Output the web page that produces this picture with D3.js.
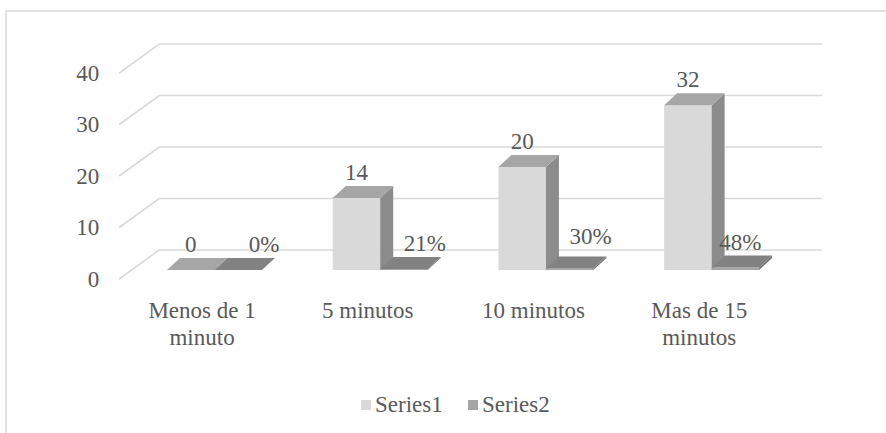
<!DOCTYPE html>
<html>
<head>
<meta charset="utf-8">
<script src="https://cdn.jsdelivr.net/npm/d3@7/dist/d3.min.js"></script>
</head>
<body style="margin:0">
<svg id="chart" width="886" height="433"></svg>
<script>
// ---- data ----
const categories = ["Menos de 1 minuto", "5 minutos", "10 minutos", "Mas de 15 minutos"];
const series1 = [0, 14, 20, 32];
const series2 = [0, 0.21, 0.30, 0.48];
const seriesNames = ["Series1", "Series2"];
const yTicks = [0, 10, 20, 30, 40];

// ---- layout ----
const W = 886, H = 433;
const fontSize = 23;
const textColor = "#595959";
const baseY = 270;                  // floor line in the plane of the column fronts
const wall = { dx: 27.6, dy: -20 }; // from column-front plane back to the rear wall
const front = { dx: -12.4, dy: 9 }; // from column-front plane forward to the floor edge
const depth = { dx: 13, dy: -12 };  // column depth
const maxLineChars = 10;            // category labels wrap past this many characters

const colors = {
  s1: { front: "#d9d9d9", top: "#a6a6a6", side: "#8c8c8c" },
  s2: { front: "#a5a5a5", top: "#828282", side: "#6f6f6f" },
  grid: "#d9d9d9",
  border: "#d9d9d9"
};
// small label nudges for the second series (x, y)
const s2LabelNudge = [[26, 0], [21, 0], [21, -6], [5, 0]];
// legend item left edges
const legendX = [361, 468];

const svg = d3.select("#chart");

function styleText(sel) {
  return sel.style("font-family", '"Liberation Serif"')
    .attr("font-size", fontSize)
    .attr("fill", textColor);
}

// chart frame
svg.append("rect")
  .attr("x", 6).attr("y", 11)
  .attr("width", W + 20).attr("height", H + 20)
  .attr("fill", "#ffffff")
  .attr("stroke", colors.border).attr("stroke-width", 1.5);

const x = d3.scaleBand().domain(categories).range([131.6, 794.5])
  .paddingInner(0.427).paddingOuter(0.2135);
const xs = d3.scaleBand().domain(seriesNames).range([0, x.bandwidth()]);
const y = d3.scaleLinear().domain([0, 40]).range([baseY, baseY - 206]);

const plotL = x.range()[0], plotR = x.range()[1];

// gridlines: rear wall horizontal + left side wall diagonal
const grid = svg.append("g").attr("fill", "none").attr("stroke", colors.grid).attr("stroke-width", 1.6);
yTicks.forEach(t => {
  const yy = y(t);
  grid.append("path").attr("d", d3.line()([
    [plotL + front.dx, yy + front.dy],
    [plotL + wall.dx, yy + wall.dy],
    [plotR + wall.dx, yy + wall.dy]
  ]));
});

// y axis labels
svg.append("g").selectAll("text").data(yTicks).join("text")
  .attr("text-anchor", "end")
  .attr("x", plotL + front.dx - 20)
  .attr("y", d => y(d) + front.dy)
  .attr("dy", "0.33em")
  .text(d => d)
  .call(styleText);

// columns
function column(g, x0, w, v, c) {
  const yt = y(v), yb = y(0);
  g.append("rect").attr("x", x0).attr("y", yt).attr("width", w).attr("height", Math.max(0, yb - yt))
    .attr("fill", c.front);
  g.append("path").attr("fill", c.side).attr("d", d3.line()([
    [x0 + w, yt], [x0 + w + depth.dx, yt + depth.dy], [x0 + w + depth.dx, yb + depth.dy], [x0 + w, yb]
  ]));
  g.append("path").attr("fill", c.top).attr("d", d3.line()([
    [x0, yt], [x0 + depth.dx, yt + depth.dy], [x0 + w + depth.dx, yt + depth.dy], [x0 + w, yt]
  ]));
}
const bars = svg.append("g");
categories.forEach((cat, i) => {
  const g = bars.append("g");
  column(g, x(cat) + xs("Series1"), xs.bandwidth(), series1[i], colors.s1);
  column(g, x(cat) + xs("Series2"), xs.bandwidth(), series2[i], colors.s2);
});

// data labels
const labels = svg.append("g");
categories.forEach((cat, i) => {
  labels.append("text")
    .attr("text-anchor", "middle")
    .attr("x", x(cat) + xs("Series1") + xs.bandwidth() / 2)
    .attr("y", y(series1[i]) + depth.dy - 6)
    .text(series1[i])
    .call(styleText);
  labels.append("text")
    .attr("text-anchor", "middle")
    .attr("x", x(cat) + xs("Series2") + xs.bandwidth() / 2 + s2LabelNudge[i][0])
    .attr("y", y(series2[i]) + depth.dy - 6 + s2LabelNudge[i][1])
    .text(d3.format(".0%")(series2[i]))
    .call(styleText);
});

// category labels, wrapped word by word
function wrapWords(s) {
  const out = [];
  s.split(" ").forEach(w => {
    const last = out[out.length - 1];
    if (last && (last + " " + w).length <= maxLineChars) out[out.length - 1] = last + " " + w;
    else out.push(w);
  });
  return out;
}
const catG = svg.append("g");
categories.forEach(cat => {
  const cx = x(cat) + x.bandwidth() / 2 + front.dx;
  const t = catG.append("text").attr("text-anchor", "middle").call(styleText);
  wrapWords(cat).forEach((ln, k) => {
    t.append("tspan").attr("x", cx).attr("y", 318 + k * 27).text(ln);
  });
});

// legend
const leg = svg.append("g");
const legColors = [colors.s1.front, colors.s2.front];
seriesNames.forEach((name, i) => {
  leg.append("rect").attr("x", legendX[i]).attr("y", 400).attr("width", 10).attr("height", 10).attr("fill", legColors[i]);
  leg.append("text").attr("x", legendX[i] + 14).attr("y", 412).text(name).call(styleText);
});
</script>
</body>
</html>
